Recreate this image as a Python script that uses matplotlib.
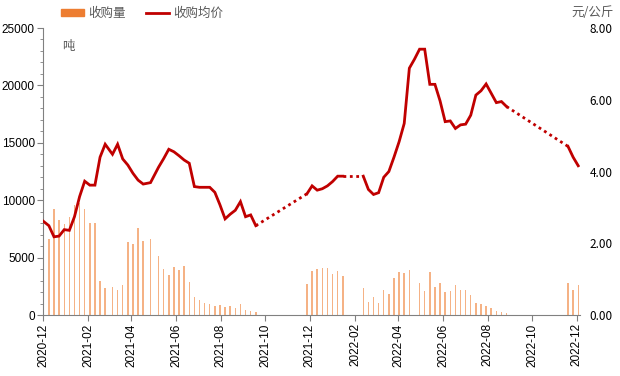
import numpy as np
import pandas as pd
import matplotlib
matplotlib.use('Agg')
import matplotlib.pyplot as plt
import matplotlib.dates as mdates
from matplotlib.lines import Line2D
from matplotlib.patches import Patch
from matplotlib.ticker import MultipleLocator, FuncFormatter


# Weekly purchase data (dates)
dates = [
    '2020-12-01', '2020-12-09', '2020-12-16', '2020-12-23', '2020-12-30', '2021-01-06',
    '2021-01-13', '2021-01-20', '2021-01-27', '2021-02-03', '2021-02-10', '2021-02-17',
    '2021-02-24', '2021-03-06', '2021-03-13', '2021-03-20', '2021-03-27', '2021-04-03',
    '2021-04-10', '2021-04-17', '2021-04-27', '2021-05-08', '2021-05-15', '2021-05-22',
    '2021-05-29', '2021-06-05', '2021-06-12', '2021-06-19', '2021-06-26', '2021-07-03',
    '2021-07-10', '2021-07-17', '2021-07-24', '2021-07-31', '2021-08-07', '2021-08-14',
    '2021-08-21', '2021-08-28', '2021-09-04', '2021-09-11', '2021-09-18',
    '2021-11-27', '2021-12-04', '2021-12-11', '2021-12-18', '2021-12-25', '2022-01-01',
    '2022-01-08', '2022-01-15',
    '2022-02-12', '2022-02-19', '2022-02-26', '2022-03-05', '2022-03-12', '2022-03-19',
    '2022-03-26', '2022-04-02', '2022-04-09', '2022-04-16', '2022-04-23', '2022-04-30',
    '2022-05-07', '2022-05-14', '2022-05-21', '2022-05-28', '2022-06-04', '2022-06-11',
    '2022-06-18', '2022-06-25', '2022-07-02', '2022-07-09', '2022-07-16', '2022-07-23',
    '2022-07-30', '2022-08-06', '2022-08-13', '2022-08-20', '2022-08-27',
    '2022-11-19', '2022-11-26', '2022-12-03',
]

# 收购量 (吨)
volume = [
    13600, 6600, 9215, 8256, 7936, 8518, 9564, 9797, 9244, 7994, 7994, 2965,
    2326, 2471, 2180, 2587, 6395, 6221, 7587, 6453, 6628, 5145, 4041, 3488,
    4215, 3924, 4273, 2878, 1541, 1279, 1047, 930, 785, 872, 727, 814,
    640, 930, 465, 320, 262,
    2704, 3837, 4041, 4099, 4099, 3576, 3837, 3372,
    2326, 1134, 1570, 1017, 2151, 1831, 3227, 3721, 3663, 3924, np.nan, 2762,
    2093, 3750, 2471, 2762, 1977, 2093, 2587, 2180, 2151, 1744, 1047, 930,
    756, 581, 378, 262, 203,
    2762, 2180, 2587,
]

# 收购均价 (元/公斤)
price = [
    2.62, 2.49, 2.18, 2.20, 2.38, 2.36, 2.74, 3.30, 3.73, 3.62, 3.62, 4.40,
    4.76, 4.48, 4.76, 4.35, 4.18, 3.95, 3.76, 3.65, 3.69, 4.12, 4.36, 4.62,
    4.55, 4.44, 4.32, 4.23, 3.58, 3.56, 3.56, 3.56, 3.42, 3.07, 2.68, 2.81,
    2.92, 3.16, 2.74, 2.79, 2.49,
    3.38, 3.60, 3.48, 3.52, 3.60, 3.72, 3.87, 3.87,
    3.87, 3.50, 3.36, 3.41, 3.84, 4.00, 4.40, 4.83, 5.34, 6.88, 7.13, 7.41,
    7.41, 6.43, 6.43, 5.97, 5.39, 5.41, 5.20, 5.30, 5.32, 5.57, 6.13, 6.25,
    6.44, 6.18, 5.92, 5.95, 5.81,
    4.70, 4.40, 4.16,
]

x_ticks = pd.date_range('2020-12-01', '2022-12-01', freq='2MS')

BAR_COLOR = '#F5B285'
LEGEND_BAR = '#ED7D31'
LINE_COLOR = '#C00000'
GRAY_TEXT = '#595959'


def draw_chart():
    plt.rcParams['font.family'] = ['Liberation Sans', 'Noto Sans CJK SC', 'DejaVu Sans']
    cjk = ['Noto Sans CJK SC', 'DejaVu Sans']

    d = pd.to_datetime(dates)
    vol = np.array(volume, dtype=float)
    prc = np.array(price, dtype=float)

    fig = plt.figure(figsize=(6.2, 3.76), dpi=100)
    ax = fig.add_axes([0.0694, 0.1622, 0.8656, 0.7633])
    ax2 = ax.twinx()

    # The bars for purchase volume
    ax.bar(d, vol, width=2.0, color=BAR_COLOR, linewidth=0, zorder=2)
    ax.set_ylim(0, 25000)
    ax.yaxis.set_major_locator(MultipleLocator(5000))
    ax.yaxis.set_minor_locator(MultipleLocator(1000))

    # The price line: solid where weeks are continuous, dotted over the gaps
    gaps = np.where(np.diff(d.values).astype('timedelta64[D]').astype(int) > 20)[0]
    starts = np.r_[0, gaps + 1]
    ends = np.r_[gaps + 1, len(d)]
    for s, e in zip(starts, ends):
        ax2.plot(d[s:e], prc[s:e], color=LINE_COLOR, linewidth=2.0,
                 solid_joinstyle='miter', zorder=3)
    for g in gaps:
        ax2.plot(d[g:g + 2], prc[g:g + 2], color=LINE_COLOR, linewidth=2.0,
                 linestyle=(0, (1, 1.3)), dash_capstyle='butt', zorder=3)
    ax2.set_ylim(0, 8)
    ax2.yaxis.set_major_locator(MultipleLocator(2))
    ax2.yaxis.set_major_formatter(FuncFormatter(lambda v, p: '%.2f' % v))

    # The x axis
    ax.set_xlim(pd.Timestamp('2020-12-01'), pd.Timestamp('2022-12-05'))
    ax.set_xticks(x_ticks)
    ax.xaxis.set_major_formatter(mdates.DateFormatter('%Y-%m'))
    ax.tick_params(axis='x', rotation=90, labelsize=8.5, length=4, color='#808080', pad=2)
    ax.tick_params(axis='y', which='major', labelsize=8.5, length=4, color='#808080', pad=2)
    ax.tick_params(axis='y', which='minor', length=2.5, color='#808080')
    ax2.tick_params(axis='y', length=0, labelsize=8.5, pad=7)
    for lab in ax2.get_yticklabels():
        lab.set_family(cjk)

    for a in (ax, ax2):
        a.spines['top'].set_visible(False)
        a.spines['right'].set_visible(False)
    ax2.spines['left'].set_visible(False)
    ax2.spines['bottom'].set_visible(False)
    ax.spines['left'].set_color('#808080')
    ax.spines['bottom'].set_color('#808080')

    # Units
    ax.text(0.035, 0.934, '吨', transform=ax.transAxes, fontsize=9,
            color=GRAY_TEXT, family=cjk, va='center', ha='left')
    fig.text(0.99, 0.968, '元/公斤', fontsize=9, color=GRAY_TEXT, family=cjk,
             va='center', ha='right')

    # The legend
    handles = [Patch(color=LEGEND_BAR), Line2D([0], [0], color=LINE_COLOR, linewidth=2)]
    fig.legend(handles, ['收购量', '收购均价'], loc='center', bbox_to_anchor=(0.229, 0.965),
               ncol=2, frameon=False, prop={'family': cjk, 'size': 9},
               labelcolor=GRAY_TEXT, handlelength=1.9, handleheight=0.45,
               columnspacing=1.6, handletextpad=0.3)

    fig.savefig('out.png', dpi=100)


def main():
    draw_chart()


if __name__ == '__main__':
    main()
